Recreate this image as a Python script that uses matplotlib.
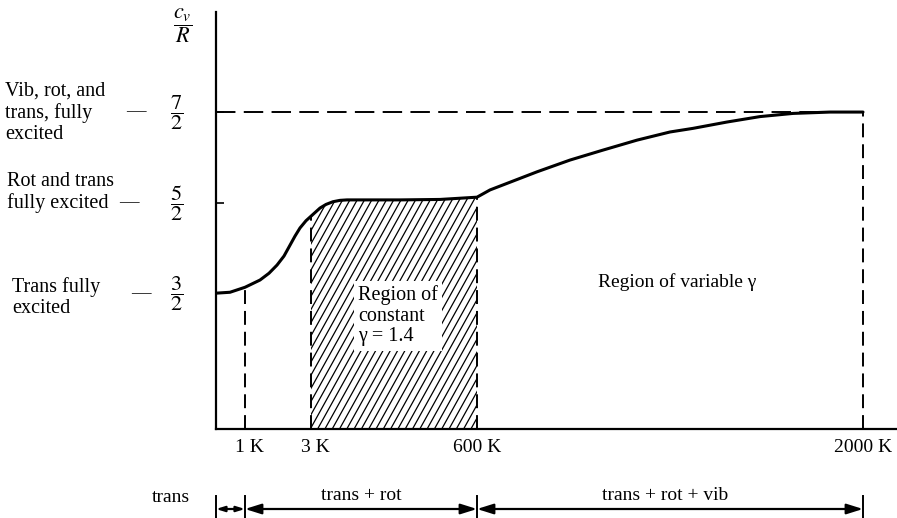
import matplotlib
matplotlib.use('Agg')
import matplotlib.pyplot as plt
import matplotlib.transforms as mtransforms
import numpy as np

# schematic curve of c_v/R vs temperature (x is a schematic position, not linear in T)
curve_pos = [0.00, 0.14, 0.29, 0.44, 0.53, 0.61, 0.68, 0.74, 0.79, 0.84, 0.90,
             0.95, 1.00, 1.04, 1.10, 1.17, 1.24, 1.31, 1.84, 2.24, 2.61, 2.74,
             3.21, 3.54, 3.87, 4.21, 4.54, 4.77, 5.11, 5.44, 5.77, 6.14, 6.47]
curve_cv = [1.50, 1.51, 1.565, 1.645, 1.72, 1.81, 1.91, 2.03, 2.13, 2.22, 2.30,
            2.35, 2.40, 2.44, 2.48, 2.51, 2.525, 2.53, 2.53, 2.535, 2.56, 2.64,
            2.84, 2.97, 3.08, 3.19, 3.28, 3.32, 3.39, 3.45, 3.485, 3.50, 3.50]

temp_pos = [0.29, 0.95, 2.61, 6.47]
temp_labels = ["1 K", "3 K", "600 K", "2000 K"]

levels = [1.5, 2.5, 3.5]
level_fracs = [r"$\dfrac{3}{2}$", r"$\dfrac{5}{2}$", r"$\dfrac{7}{2}$"]
level_texts = ["Trans fully\nexcited", "Rot and trans\nfully excited",
               "Vib, rot, and\ntrans, fully\nexcited"]

mode_names = ["trans", "trans + rot", "trans + rot + vib"]

plt.rcParams['font.family'] = ['Liberation Serif', 'DejaVu Serif']
plt.rcParams['mathtext.fontset'] = 'stix'

W, H = 897, 518
fig = plt.figure(figsize=(W / 100, H / 100), dpi=100)
ax = fig.add_axes([216 / W, (H - 429) / H, (W - 216) / W, (429 - 12) / H])
ax.set_xlim(0, 6.81)
ax.set_ylim(0, 4.605)
for s in ['top', 'right']:
    ax.spines[s].set_visible(False)
for s in ['left', 'bottom']:
    ax.spines[s].set_linewidth(1.6)

pos = np.array(curve_pos)
cv = np.array(curve_cv)

# hatched region of constant gamma (3 K .. 600 K), steep hatch lines
i0 = int(np.argmin(abs(pos - temp_pos[1])))
i1 = int(np.argmin(abs(pos - temp_pos[2])))
region = ax.fill_between(pos[i0:i1 + 1], 0, cv[i0:i1 + 1], facecolor='white',
                         edgecolor='none', zorder=1)
slope = 1.8 * 100 / 90.5      # ~61 deg on screen
for x0 in np.arange(temp_pos[1] - 3.0, temp_pos[2] + 0.1, 0.073):
    ln, = ax.plot([x0, x0 + 3.0], [0, 3.0 * slope], color='black', lw=0.9, zorder=2)
    ln.set_clip_path(region.get_paths()[0], ax.transData)

ax.plot(pos, cv, color='black', lw=2.2, zorder=4, solid_capstyle='round',
        solid_joinstyle='round')

# dashed verticals from the curve down to the axis
lw_d = 1.4
dash = (10 / lw_d, 5 / lw_d)
for tp in temp_pos:
    k = int(np.argmin(abs(pos - tp)))
    ax.plot([tp, tp], [0, cv[k]], color='black', lw=lw_d, dashes=dash, zorder=3)
# dashed 7/2 line
ax.plot([0, temp_pos[-1]], [levels[-1], levels[-1]], color='black', lw=lw_d,
        dashes=(14 / lw_d, 6 / lw_d), zorder=3)

ax.set_yticks(levels)
ax.set_yticklabels([])
ax.tick_params(axis='y', direction='in', length=6, width=1.2)
ax.set_xticks(temp_pos)
ax.set_xticklabels(temp_labels, fontsize=14)
ax.tick_params(axis='x', length=0, pad=7)
shift = mtransforms.ScaledTranslation(4 / 100, 0, fig.dpi_scale_trans)
for lab in ax.get_xticklabels()[:2]:
    lab.set_transform(lab.get_transform() + shift)

# left-side labels
fig_y = mtransforms.blended_transform_factory(fig.transFigure, ax.transData)
dash_x = [141, 129, 136]
for lev, frac, dx in zip(levels, level_fracs, dash_x):
    ax.text(177 / W, lev, frac, transform=fig_y, ha='center', va='center',
            fontsize=16)
    ax.text(dx / W, lev, "\u2014", transform=fig_y, ha='center', va='center',
            fontsize=14)
lt_x = [12, 7, 5]
lt_y = [1.45, 2.61, 3.49]
for txt, x0, y0 in zip(level_texts, lt_x, lt_y):
    ax.text(x0 / W, y0, txt, transform=fig_y, ha='left', va='center',
            fontsize=14.5, linespacing=1.15)

ax.text(183 / W, 1 - 26 / H, r"$\dfrac{c_v}{R}$", transform=fig.transFigure,
        ha='center', va='center', fontsize=16)

# region labels
ax.text(1.42, 1.25, "Region of\nconstant\n\u03b3 = 1.4", ha='left', va='center',
        fontsize=14.5, linespacing=1.12, zorder=5,
        bbox=dict(facecolor='white', edgecolor='none', pad=3))
ax.text(3.82, 1.62, "Region of variable \u03b3", ha='left', va='center', fontsize=14)

# bottom row: ranges of excited modes
fig_x = mtransforms.blended_transform_factory(ax.transData, fig.transFigure)
bars = [0.0, temp_pos[0], temp_pos[2], temp_pos[3]]
y_arrow = 1 - 509 / H
for b in bars:
    ax.plot([b, b], [1 - 496 / H, 0], transform=fig_x, color='black', lw=1.4,
            clip_on=False)
for j, (a, b) in enumerate(zip(bars[:-1], bars[1:])):
    ms = 7 if j == 0 else 14
    ax.annotate("", xy=(b, y_arrow), xytext=(a, y_arrow), xycoords=fig_x,
                textcoords=fig_x,
                arrowprops=dict(arrowstyle='<|-|>,head_length=0.7,head_width=0.22',
                                color='black', lw=1.6, shrinkA=0, shrinkB=0,
                                mutation_scale=ms),
                annotation_clip=False)
ax.text(171 / W, 1 - 497 / H, mode_names[0], transform=fig.transFigure,
        ha='center', va='center', fontsize=14)
ax.text((bars[1] + bars[2]) / 2, 1 - 495 / H, mode_names[1], transform=fig_x,
        ha='center', va='center', fontsize=14)
ax.text((bars[2] + bars[3]) / 2 - 0.05, 1 - 495 / H, mode_names[2], transform=fig_x,
        ha='center', va='center', fontsize=14)

fig.savefig("out.png", dpi=100)
